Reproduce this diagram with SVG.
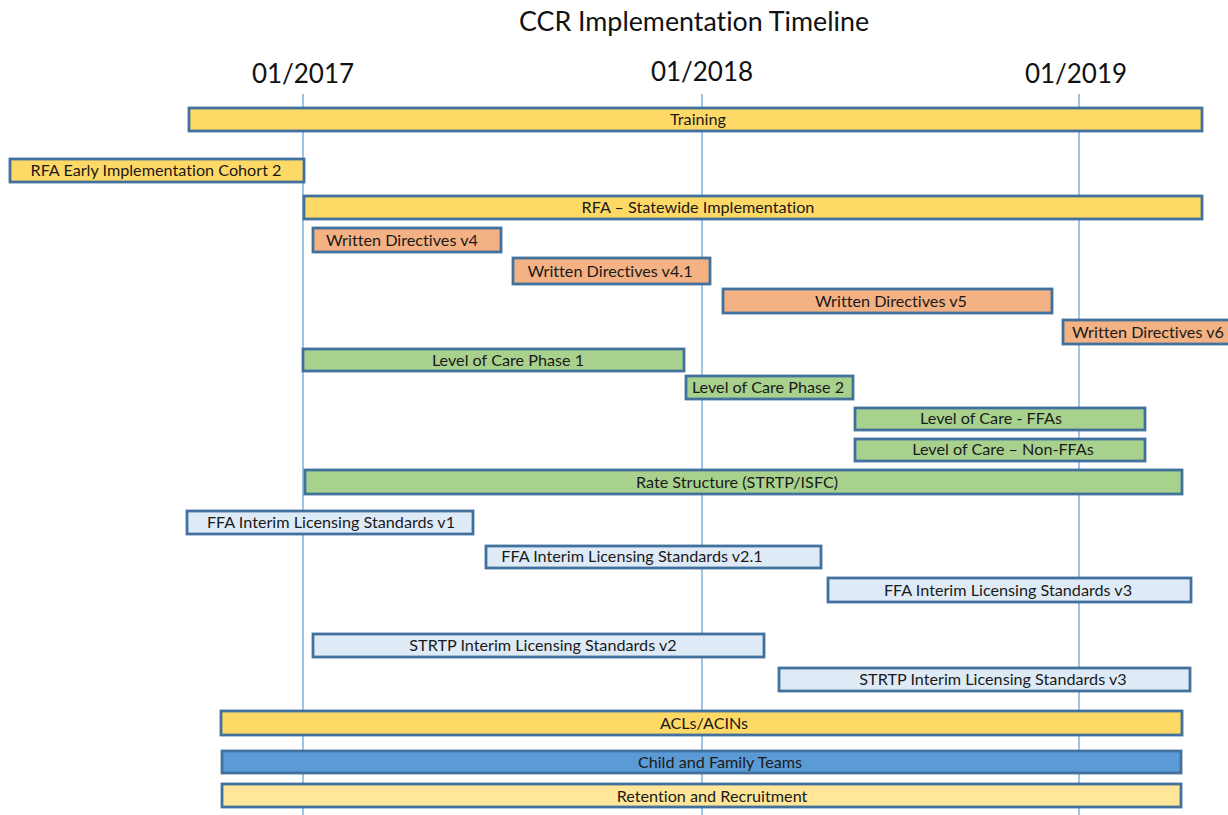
<svg xmlns="http://www.w3.org/2000/svg" width="1228" height="815" viewBox="0 0 1228 815">
<style>
text{font-variant-ligatures:none}
.bar{stroke:#41719C;stroke-width:2.8}
.y{fill:#FFD966}.o{fill:#F4B183}.g{fill:#A9D18E}.lb{fill:#DEEBF7}.b{fill:#5B9BD5}.ly{fill:#FFE699}
.t{font-family:Lato,"Liberation Sans",sans-serif;font-size:16.2px;fill:#1a1a1a;text-anchor:middle}
.d{font-family:Lato,"Liberation Sans",sans-serif;font-size:26px;fill:#111;text-anchor:middle}
.grid{stroke:#5B9BD5;stroke-width:1.2}
</style>
<rect width="1228" height="815" fill="#fff"/>
<text x="694" y="31" style="font-family:Lato,'Liberation Sans',sans-serif;font-size:26.8px;fill:#111;text-anchor:middle">CCR Implementation Timeline</text>
<g id="axis">
<text class="d" x="303" y="83">01/2017</text>
<text class="d" x="702" y="81">01/2018</text>
<text class="d" x="1076" y="83">01/2019</text>
</g>
<g id="connectors">
<line class="grid" x1="303" y1="94" x2="303" y2="815"/>
<line class="grid" x1="702" y1="94" x2="702" y2="815"/>
<line class="grid" x1="1079" y1="94" x2="1079" y2="815"/>
</g>
<g id="training"><rect class="bar y" x="189" y="108" width="1013" height="23"/><text class="t" x="698" y="125">Training</text></g>
<g id="rfa-early"><rect class="bar y" x="10" y="159" width="294" height="23"/><text class="t" x="156" y="176">RFA Early Implementation Cohort 2</text></g>
<g id="rfa-statewide"><rect class="bar y" x="304" y="196" width="898" height="23"/><text class="t" x="698" y="213">RFA – Statewide Implementation</text></g>
<g id="wd-v4"><rect class="bar o" x="313" y="228" width="188" height="24"/><text class="t" x="402" y="246">Written Directives v4</text></g>
<g id="wd-v41"><rect class="bar o" x="513" y="258" width="197" height="26"/><text class="t" x="610" y="277">Written Directives v4.1</text></g>
<g id="wd-v5"><rect class="bar o" x="723" y="289" width="329" height="24"/><text class="t" x="891" y="307">Written Directives v5</text></g>
<g id="wd-v6"><rect class="bar o" x="1063" y="320" width="170" height="24"/><text class="t" x="1148" y="338">Written Directives v6</text></g>
<g id="loc-1"><rect class="bar g" x="303" y="349" width="381" height="22"/><text class="t" x="508" y="366">Level of Care Phase 1</text></g>
<g id="loc-2"><rect class="bar g" x="686" y="376" width="167" height="23"/><text class="t" x="768" y="393">Level of Care Phase 2</text></g>
<g id="loc-ffa"><rect class="bar g" x="855" y="408" width="290" height="22"/><text class="t" x="991" y="424">Level of Care - FFAs</text></g>
<g id="loc-nonffa"><rect class="bar g" x="855" y="439" width="290" height="22"/><text class="t" x="1003" y="455">Level of Care – Non-FFAs</text></g>
<g id="rate"><rect class="bar g" x="305" y="470" width="877" height="24"/><text class="t" x="737" y="488">Rate Structure (STRTP/ISFC)</text></g>
<g id="ffa-v1"><rect class="bar lb" x="187" y="511" width="286" height="23"/><text class="t" x="331" y="528">FFA Interim Licensing Standards v1</text></g>
<g id="ffa-v21"><rect class="bar lb" x="486" y="546" width="335" height="22"/><text class="t" x="632" y="562">FFA Interim Licensing Standards v2.1</text></g>
<g id="ffa-v3"><rect class="bar lb" x="828" y="578" width="363" height="24"/><text class="t" x="1008" y="596">FFA Interim Licensing Standards v3</text></g>
<g id="strtp-v2"><rect class="bar lb" x="313" y="634" width="451" height="23"/><text class="t" x="543" y="651">STRTP Interim Licensing Standards v2</text></g>
<g id="strtp-v3"><rect class="bar lb" x="779" y="668" width="411" height="23"/><text class="t" x="993" y="685">STRTP Interim Licensing Standards v3</text></g>
<g id="acls"><rect class="bar y" x="221" y="711" width="961" height="24"/><text class="t" x="704" y="729">ACLs/ACINs</text></g>
<g id="cft"><rect class="bar b" x="222" y="751" width="959" height="22"/><text class="t" x="720" y="768">Child and Family Teams</text></g>
<g id="retention"><rect class="bar ly" x="222" y="784" width="959" height="23"/><text class="t" x="712" y="802">Retention and Recruitment</text></g>
</svg>
